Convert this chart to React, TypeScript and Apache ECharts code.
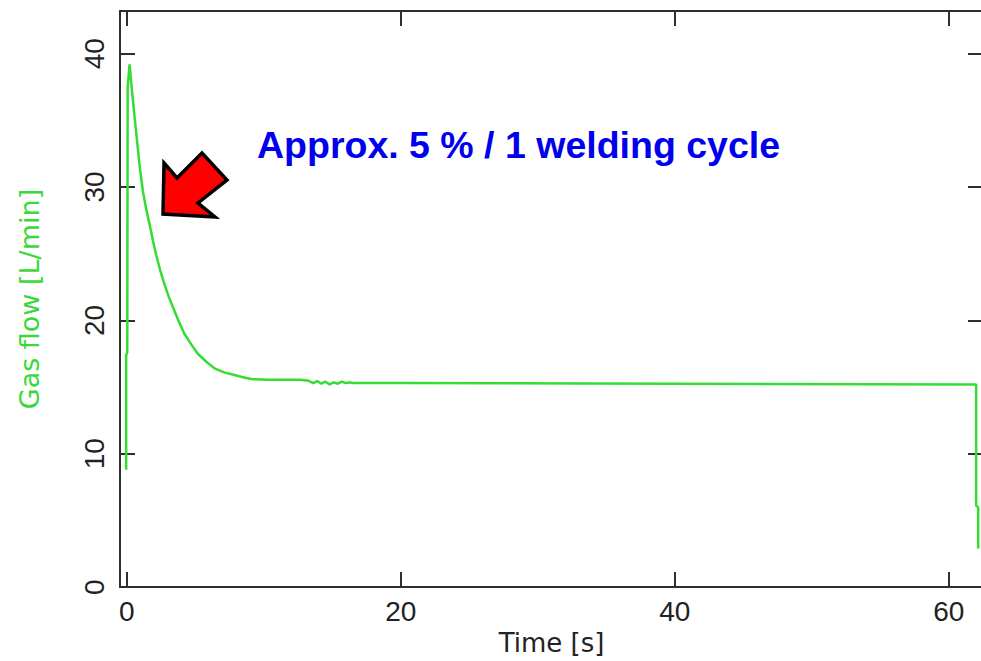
import React, { useEffect, useRef } from "react";
import * as echarts from "echarts";

const timeS: number[] = [
  -0.05, -0.05, 0.03, 0.06, 0.2, 0.35, 0.56, 0.75, 0.93, 1.17, 1.4, 1.66, 1.9, 2.14, 2.45, 2.75, 3.05, 3.36,
  3.8, 4.2, 4.7, 5.18, 5.8, 6.4, 7.1, 7.86, 8.4, 9.07, 10.3, 12.6, 13.2, 13.6, 13.9, 14.2, 14.5, 14.8, 15.1,
  15.4, 15.7, 16.0, 16.3, 16.5, 17.0, 20.0, 40.0, 62.0, 62.0, 62.15, 62.15,
];
const gasFlow: number[] = [
  8.8, 17.4, 17.6, 37.5, 39.2, 37.5, 35.3, 33.4, 31.6, 29.7, 28.4, 27.2, 26.0, 24.9, 23.7, 22.7, 21.8, 21.0,
  19.9, 19.0, 18.2, 17.5, 16.9, 16.4, 16.1, 15.9, 15.75, 15.6, 15.55, 15.55, 15.5, 15.3, 15.45, 15.25, 15.4, 15.2, 15.35,
  15.25, 15.4, 15.3, 15.35, 15.3, 15.3, 15.3, 15.25, 15.2, 6.1, 6.0, 2.9,
];
const xTicks: number[] = [0, 20, 40, 60];
const yTicks: number[] = [0, 10, 20, 30, 40];
const annotation = "Approx. 5 % / 1 welding cycle";
const xName = "Time [s]";
const yName = "Gas flow [L/min]";

export default function App() {
  const ref = useRef<HTMLDivElement>(null);
  useEffect(() => {
    if (!ref.current) return;
    const chart = echarts.init(ref.current, null, { renderer: "svg" });
    const frameColor = "#2e2e2e";
    const font = "Liberation Sans, Arial, sans-serif";
    const nameFont = "DejaVu Sans, sans-serif";
    const baseAxisX = {
      type: "value",
      min: -0.5,
      max: 62.5,
      splitLine: { show: false },
      axisLine: { show: true, onZero: false, lineStyle: { color: frameColor, width: 2 } },
      axisTick: { show: true, inside: true, length: 15, customValues: xTicks, lineStyle: { color: frameColor, width: 2 } },
    };
    const baseAxisY = {
      type: "value",
      min: 0,
      max: 43.2,
      splitLine: { show: false },
      axisLine: { show: true, onZero: false, lineStyle: { color: frameColor, width: 2 } },
      axisTick: { show: true, inside: true, length: 15, customValues: yTicks, lineStyle: { color: frameColor, width: 2 } },
    };
    const data = timeS.map((t, i) => [t, gasFlow[i]]);
    chart.setOption({
      animation: false,
      backgroundColor: "#ffffff",
      grid: { left: 120, right: 7, top: 11, bottom: 69, containLabel: false },
      xAxis: [
        {
          ...baseAxisX,
          position: "bottom",
          name: xName,
          nameLocation: "middle",
          nameGap: 34,
          nameTextStyle: { fontFamily: nameFont, fontSize: 26, color: "#222" },
          axisLabel: { show: true, customValues: xTicks, margin: 10, fontFamily: font, fontSize: 28, color: "#222" },
        },
        {
          ...baseAxisX,
          position: "top",
          axisLabel: { show: false },
        },
      ],
      yAxis: [
        {
          ...baseAxisY,
          position: "left",
          name: yName,
          nameLocation: "middle",
          nameGap: 77,
          nameRotate: 90,
          nameTextStyle: { fontFamily: nameFont, fontSize: 27, color: "#3ad83a" },
          axisLabel: { show: true, customValues: yTicks, rotate: 90, margin: 12, fontFamily: font, fontSize: 28, color: "#222" },
        },
        {
          ...baseAxisY,
          position: "right",
          axisLabel: { show: false },
        },
      ],
      series: [
        {
          type: "line",
          data,
          xAxisIndex: 0,
          yAxisIndex: 0,
          showSymbol: false,
          symbol: "none",
          lineStyle: { color: "#33dd33", width: 2.5 },
          clip: true,
        },
      ],
      graphic: [
        {
          type: "polygon",
          shape: {
            points: [
              [164, 163],
              [177, 178],
              [202, 153],
              [227, 180],
              [198, 203],
              [215, 217],
              [163, 214],
            ],
          },
          style: { fill: "#ff0000", stroke: "#000000", lineWidth: 3.5, lineJoin: "miter" },
        },
        {
          type: "text",
          left: 257,
          top: 126,
          style: {
            text: annotation,
            font: "bold 37.5px Liberation Sans, Arial, sans-serif",
            fill: "#0000ee",
          },
        },
      ],
    });
    return () => chart.dispose();
  }, []);
  return (
    <div style={{ position: "fixed", left: 0, top: 0, width: 981, height: 661, overflow: "hidden", background: "#fff" }}>
      <div ref={ref} style={{ width: 990, height: 661 }} />
    </div>
  );
}
